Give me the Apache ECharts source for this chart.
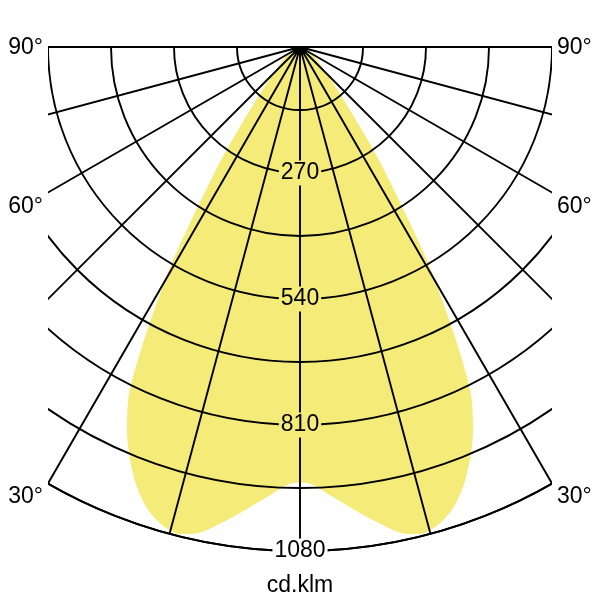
<!DOCTYPE html>
<html><head><meta charset="utf-8">
<script src="https://cdn.jsdelivr.net/npm/echarts@6/dist/echarts.min.js"></script>
<style>
html,body{margin:0;padding:0;background:#fff;}
#bg{position:absolute;left:0;top:0;width:600px;height:600px;}
#plot{position:absolute;left:48px;top:46px;width:504px;height:554px;overflow:hidden;}
</style></head><body>
<div id="bg"></div><div id="plot"></div>
<script>
// Light distribution (one half; the curve is symmetric about 0°)
const angleDeg  = [0, 1.3, 4.2, 8.8, 12.7, 14.4, 17.8, 20.9, 24.3, 26.2, 27.6, 28.9, 30.7, 32.2, 34.1, 35.5, 36.9, 40.6, 45, 58, 75, 90];
const intensity = [934, 936, 967, 1026, 1070, 1075, 1049, 993, 901, 830, 740, 651, 538, 430, 331, 270, 214, 132, 81, 34, 8, 0];
const radiusLabels = [270, 540, 810, 1080];
const angleLabels = ['90°', '60°', '30°'];
const unitLabel = 'cd.klm';

const FONT = '"Liberation Sans", Arial, sans-serif';
const YELLOW = '#f4eb78';
const LW = 1.9;

// full symmetric curve: right side (360 - a), then left side (a)
const curve = [];
for (let i = angleDeg.length - 1; i >= 1; i--) curve.push([intensity[i], 360 - angleDeg[i]]);
for (let i = 0; i < angleDeg.length; i++) curve.push([intensity[i], angleDeg[i]]);

const plot = echarts.init(document.getElementById('plot'), null, {renderer: 'canvas'});
plot.setOption({
  animation: false,
  polar: {center: [252, 1], radius: 504},
  angleAxis: {
    type: 'value', min: 0, max: 360, interval: 15, startAngle: 270, clockwise: true, z: 3,
    axisLine: {show: true, lineStyle: {color: '#000', width: LW}},
    axisTick: {show: false}, axisLabel: {show: false},
    splitLine: {show: true, lineStyle: {color: '#000', width: LW}}
  },
  radiusAxis: {
    type: 'value', min: 0, max: 1080, interval: 135, z: 4,
    axisLine: {show: false}, axisTick: {show: false},
    splitLine: {show: true, lineStyle: {color: '#000', width: LW}},
    axisLabel: {
      margin: 0, align: 'center', verticalAlign: 'middle',
      formatter: function (v) {
        if (radiusLabels.indexOf(v) < 0) return '';
        return v === radiusLabels[radiusLabels.length - 1] ? '{w|' + v + '}' : '{y|' + v + '}';
      },
      rich: {
        y: {backgroundColor: YELLOW, padding: [1, 2], fontSize: 23, color: '#000', fontFamily: FONT},
        w: {backgroundColor: '#fff', padding: [1, 2], fontSize: 23, color: '#000', fontFamily: FONT}
      }
    }
  },
  series: [{
    type: 'line', coordinateSystem: 'polar', data: curve, z: 1,
    showSymbol: false, smooth: 0.3, silent: true,
    lineStyle: {width: 0}, areaStyle: {color: YELLOW, opacity: 1}
  }]
});

const bg = echarts.init(document.getElementById('bg'), null, {renderer: 'canvas'});
const labelY = [48, 207, 497];
const els = [];
angleLabels.forEach(function (t, i) {
  els.push({type: 'text', style: {text: t, x: 43, y: labelY[i], align: 'right', verticalAlign: 'middle', fontSize: 23, fontFamily: FONT, fill: '#000'}});
  els.push({type: 'text', style: {text: t, x: 557, y: labelY[i], align: 'left', verticalAlign: 'middle', fontSize: 23, fontFamily: FONT, fill: '#000'}});
});
els.push({type: 'text', style: {text: unitLabel, x: 300, y: 586, align: 'center', verticalAlign: 'middle', fontSize: 23, fontFamily: FONT, fill: '#000'}});
bg.setOption({animation: false, graphic: {elements: els}});
</script>
</body></html>
